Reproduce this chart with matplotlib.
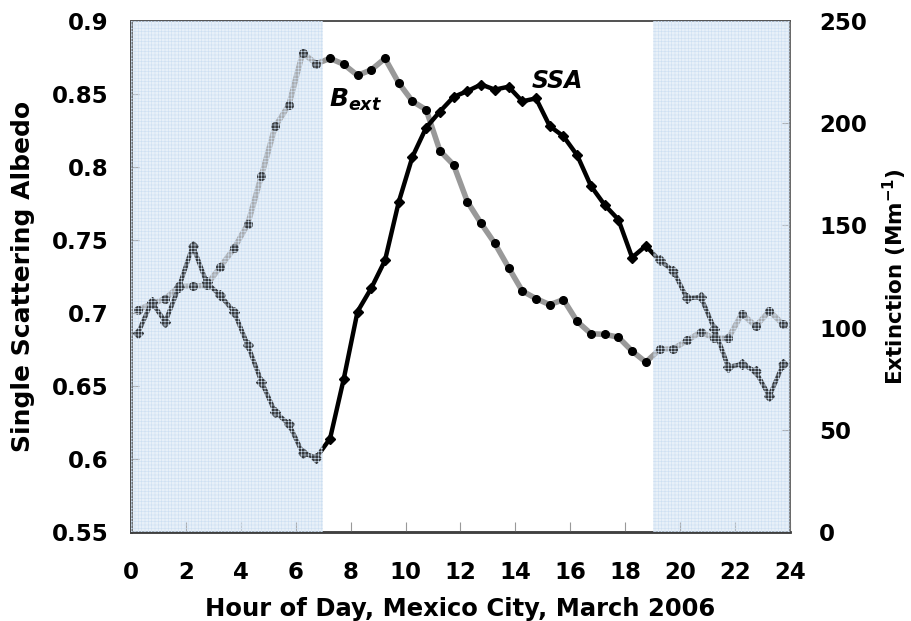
import numpy as np
import matplotlib
matplotlib.use('Agg')
import matplotlib.pyplot as plt

# half-hourly values
hours = 0.25 + 0.5 * np.arange(48)
ssa = [0.686, 0.7075, 0.694, 0.718, 0.746, 0.721, 0.712, 0.701, 0.678, 0.653,
       0.632, 0.624, 0.604, 0.601, 0.614, 0.655, 0.701, 0.717, 0.736, 0.776,
       0.807, 0.827, 0.838, 0.848, 0.852, 0.8565, 0.853, 0.855, 0.845, 0.847,
       0.828, 0.821, 0.808, 0.787, 0.774, 0.764, 0.738, 0.746, 0.736, 0.729,
       0.710, 0.711, 0.689, 0.663, 0.665, 0.660, 0.643, 0.665]
bext = [108.8, 111.5, 114.2, 120.2, 120.2, 120.7, 129.7, 138.7, 150.6, 174.3,
        198.4, 209.0, 234.4, 229.1, 231.7, 228.8, 223.4, 226.1, 231.7, 219.7,
        210.7, 206.6, 186.5, 179.6, 161.6, 151.0, 141.2, 129.4, 117.9, 114.2,
        111.2, 113.7, 103.0, 97.0, 96.7, 95.3, 88.5, 83.1, 89.3, 89.6,
        93.7, 97.8, 94.8, 94.8, 106.8, 100.7, 108.1, 101.6]
night_spans = [(0, 7), (19, 24)]
x_ticks = np.arange(0, 25, 2)
ssa_ticks = [0.55, 0.6, 0.65, 0.7, 0.75, 0.8, 0.85, 0.9]
ssa_ticklabels = ['0.55', '0.6', '0.65', '0.7', '0.75', '0.8', '0.85', '0.9']
ext_ticks = [0, 50, 100, 150, 200, 250]

plt.rcParams['font.family'] = 'DejaVu Sans'
plt.rcParams['font.weight'] = 'bold'
plt.rcParams['mathtext.fontset'] = 'custom'
plt.rcParams['mathtext.it'] = 'DejaVu Sans:bold:italic'
plt.rcParams['mathtext.rm'] = 'DejaVu Sans:bold'
plt.rcParams['hatch.linewidth'] = 0.4
plt.rcParams['hatch.color'] = '#cddff2'

tick_fs = 16.5
fig = plt.figure(figsize=(9.12, 6.21), dpi=100)
ax = fig.add_axes([131/912, (621-532)/621, (790-131)/912, (532-21)/621])
ax2 = ax.twinx()
ax.set_zorder(ax2.get_zorder() + 1)
ax.patch.set_visible(False)

for x0, x1 in night_spans:
    ax2.axvspan(x0, x1, facecolor='#edf3fa', edgecolor='none', zorder=0)
    ax.axvspan(x0, x1, facecolor='#dce8f5', alpha=0.25, edgecolor='none', zorder=10)
    ax.axvspan(x0, x1, facecolor='none', hatch='+++++', edgecolor='#cddff2',
               lw=0, zorder=11)

ax2.plot(hours, bext, color='#999999', lw=4, marker='o', ms=5.5,
         mfc='black', mec='black', zorder=3)
ax.plot(hours, ssa, color='black', lw=3.2, marker='D', ms=5,
        mfc='black', mec='black', zorder=4)

ax.set_xlim(0, 24)
ax.set_ylim(0.55, 0.9)
ax2.set_ylim(0, 250)
ax.set_xticks(x_ticks)
ax.set_yticks(ssa_ticks)
ax.set_yticklabels(ssa_ticklabels)
ax2.set_yticks(ext_ticks)

ax.tick_params(axis='x', direction='in', length=7, color='#999999',
               pad=21, labelsize=tick_fs)
ax.tick_params(axis='y', direction='in', length=6, color='#999999',
               pad=16, labelsize=tick_fs)
ax2.tick_params(axis='y', direction='in', length=6, color='#999999',
                pad=21, labelsize=tick_fs)

for a in (ax, ax2):
    a.spines['left'].set_color('#404040')
    a.spines['bottom'].set_color('#404040')
    a.spines['left'].set_linewidth(1.8)
    a.spines['bottom'].set_linewidth(1.8)
    a.spines['top'].set_color('#555555')
    a.spines['right'].set_color('#666666')
    a.spines['top'].set_linewidth(1.4)
    a.spines['right'].set_linewidth(1.2)

ax.set_xlabel('Hour of Day, Mexico City, March 2006', fontsize=17.5,
              fontweight='bold', labelpad=9)
ax.set_ylabel('Single Scattering Albedo', fontsize=18, fontweight='bold',
              labelpad=12)
ax2.set_ylabel(r'Extinction (Mm$^{\mathregular{-1}}$)', fontsize=15.5,
               fontweight='bold', labelpad=10)

ax.text(7.2, 0.846, r'$B_{ext}$', fontsize=18, va='center', ha='left', zorder=12)
ax.text(14.6, 0.859, 'SSA', fontsize=17, fontstyle='italic',
        fontweight='bold', va='center', ha='left', zorder=12)

fig.savefig('out.png', dpi=100)
